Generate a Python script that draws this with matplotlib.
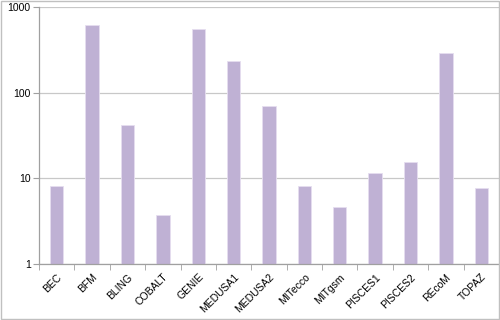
import numpy as np
import matplotlib.pyplot as plt
from matplotlib.patches import Rectangle

models = ["BEC", "BFM", "BLING", "COBALT", "GENIE", "MEDUSA1", "MEDUSA2",
          "MITecco", "MITgsm", "PISCES1", "PISCES2", "REcoM", "TOPAZ"]
values = [8.1, 620, 42, 3.7, 555, 232, 70, 8.2, 4.6, 11.4, 15.6, 288, 7.6]

plt.rcParams["font.family"] = ["Liberation Sans", "DejaVu Sans"]

fig = plt.figure(figsize=(5, 3.2), dpi=100)
ax = fig.add_axes([0.078, 0.176, 0.92, 0.802])

x = np.arange(len(models))
ax.bar(x, values, width=0.38, color="#bfb1d4", edgecolor="#e6def0",
       linewidth=0.6, zorder=2)

ax.set_yscale("log")
ax.set_ylim(1, 1000)
ax.set_xlim(-0.5, len(models) - 0.5)
ax.set_yticks([1, 10, 100, 1000])
ax.set_yticklabels(["1", "10", "100", "1000"], fontsize=7.5)
ax.yaxis.set_minor_locator(plt.NullLocator())
ax.grid(axis="y", color="#c8c8c8", linewidth=0.9, zorder=0)

ax.set_xticks(x)
ax.set_xticklabels(models, rotation=45, ha="right", rotation_mode="anchor",
                   fontsize=7.5)
ax.tick_params(axis="x", which="major", length=0, pad=6)
ax.set_xticks(np.arange(-0.5, len(models)), minor=True)
ax.tick_params(axis="x", which="minor", length=4, color="#a0a0a0")
ax.tick_params(axis="y", length=4, color="#a0a0a0", pad=2)

for side in ["top", "right"]:
    ax.spines[side].set_visible(False)
for side in ["left", "bottom"]:
    ax.spines[side].set_color("#a0a0a0")
    ax.spines[side].set_linewidth(0.9)

# outer chart border
fig.patches.append(Rectangle((0.002, 0.003), 0.996, 0.994, transform=fig.transFigure,
                             fill=False, edgecolor="#c0c0c0", linewidth=1.0))

fig.savefig("out.png", dpi=100)
